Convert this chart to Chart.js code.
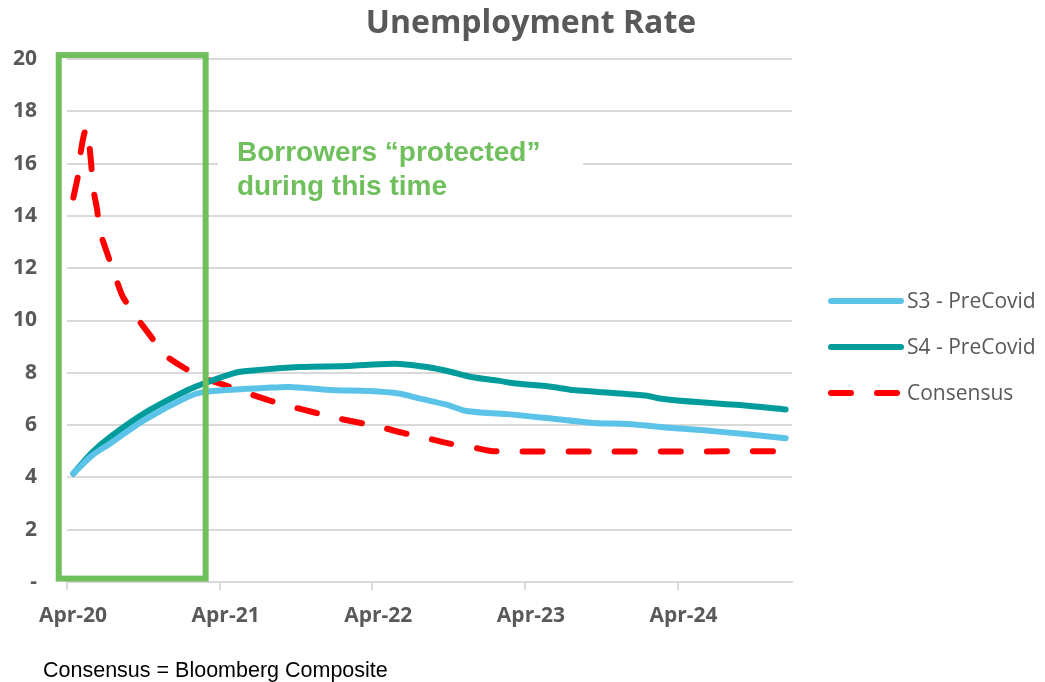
<!DOCTYPE html>
<html>
<head>
<meta charset="utf-8">
<script src="https://cdn.jsdelivr.net/npm/chart.js@4.4.1/dist/chart.umd.min.js"></script>
<style>
  html, body { margin: 0; padding: 0; background: #ffffff; }
  #wrap { width: 1045px; height: 682px; }
</style>
</head>
<body>
<div id="wrap"><canvas id="c" width="1045" height="682"></canvas></div>
<script>
// ---- Data (x = months since Apr-20, value = unemployment rate %) ----
const tickMonths = [0, 12, 24, 36, 48];
const tickLabels = ['Apr-20', 'Apr-21', 'Apr-22', 'Apr-23', 'Apr-24'];

const s3Months = [0.5, 2.0, 3.4, 6.1, 9.5, 10.8, 13.2, 15.5, 17.5, 20.7, 23.8, 26.2, 27.2, 29.9, 31.4, 34.6, 37.7, 41.4, 44.0, 47.6, 50.8, 56.5];
const s3Values = [4.15, 4.85, 5.3, 6.2, 7.08, 7.27, 7.36, 7.42, 7.46, 7.34, 7.3, 7.2, 7.08, 6.77, 6.54, 6.42, 6.27, 6.08, 6.04, 5.89, 5.77, 5.5];

const s4Months = [0.5, 2.0, 3.4, 6.1, 9.5, 10.8, 13.2, 14.4, 18.3, 22.2, 24.5, 26.2, 28.3, 29.9, 31.8, 34.0, 35.1, 38.2, 39.8, 42.9, 45.6, 46.6, 49.8, 52.9, 56.5];
const s4Values = [4.15, 4.97, 5.55, 6.46, 7.34, 7.6, 8.0, 8.08, 8.22, 8.26, 8.33, 8.34, 8.22, 8.07, 7.84, 7.69, 7.6, 7.46, 7.34, 7.23, 7.12, 7.02, 6.87, 6.77, 6.6];

const consMonths = [0.5, 0.85, 1.1, 1.42, 1.57, 1.7, 1.9, 2.04, 2.36, 2.6, 3.14, 3.85, 4.4, 5.5, 6.5, 7.7, 9.1, 10.7, 12.4, 14.2, 15.8, 17.7, 19.3, 21.2, 24.6, 26.4, 28.3, 30.0, 31.8, 33.5, 55.7];
const consValues = [14.7, 15.5, 16.5, 17.25, 16.8, 16.9, 16.0, 15.1, 14.26, 13.4, 12.6, 11.6, 10.9, 10.1, 9.45, 8.68, 8.22, 7.8, 7.53, 7.22, 6.96, 6.7, 6.5, 6.27, 5.93, 5.7, 5.5, 5.3, 5.16, 5.0, 5.0];

const seriesNames = ['S3 - PreCovid', 'S4 - PreCovid', 'Consensus'];

// Annotation ("protected" period), in data units
const protectedFrom = -0.65, protectedTo = 10.9, protectedLow = 0.13, protectedHigh = 20.15;

const GREY = '#595959';
const GREEN = '#6FBF5C';
const GRID = '#d9d9d9';

const toPts = (xs, ys) => xs.map((x, i) => ({ x: x, y: ys[i] }));

const decorPlugin = {
  id: 'decor',
  afterDatasetsDraw(chart) {
    const ctx = chart.ctx;
    const xs = chart.scales.x, ys = chart.scales.y;
    ctx.save();
    // white background behind the note
    ctx.fillStyle = '#ffffff';
    ctx.fillRect(218, 134, 365, 68);
    // note text
    ctx.fillStyle = GREEN;
    ctx.font = 'bold 28px "Liberation Sans", Arial, sans-serif';
    ctx.textAlign = 'left';
    ctx.textBaseline = 'alphabetic';
    ctx.fillText('Borrowers \u201Cprotected\u201D', 237, 161);
    ctx.fillText('during this time', 237, 195);
    // protected box
    const l = xs.getPixelForValue(protectedFrom), r = xs.getPixelForValue(protectedTo);
    const t = ys.getPixelForValue(protectedHigh), b = ys.getPixelForValue(protectedLow);
    ctx.strokeStyle = GREEN;
    ctx.lineWidth = 6;
    ctx.lineJoin = 'miter';
    ctx.strokeRect(l, t, r - l, b - t);
    ctx.restore();
  },
  afterDraw(chart) {
    const ctx = chart.ctx;
    ctx.save();
    // title
    ctx.fillStyle = GREY;
    ctx.font = 'bold 32px "Open Sans", sans-serif';
    ctx.textAlign = 'center';
    ctx.textBaseline = 'alphabetic';
    ctx.fillText('Unemployment Rate', 531, 33);
    // legend
    const legendY = [301, 347, 393];
    chart.data.datasets.forEach((ds, i) => {
      ctx.save();
      ctx.strokeStyle = ds.borderColor;
      ctx.lineWidth = ds.borderWidth;
      ctx.lineCap = 'round';
      ctx.setLineDash(ds.borderDash || []);
      ctx.beginPath();
      ctx.moveTo(831, legendY[i]);
      ctx.lineTo(901, legendY[i]);
      ctx.stroke();
      ctx.restore();
      ctx.fillStyle = GREY;
      ctx.font = '21px "Open Sans", sans-serif';
      ctx.textAlign = 'left';
      ctx.textBaseline = 'middle';
      ctx.fillText(ds.label, 907, legendY[i] + 1);
    });
    // footnote
    ctx.fillStyle = '#000000';
    ctx.font = '21.5px "Liberation Sans", Arial, sans-serif';
    ctx.textAlign = 'left';
    ctx.textBaseline = 'alphabetic';
    ctx.fillText('Consensus = Bloomberg Composite', 43, 677);
    ctx.restore();
  }
};

new Chart(document.getElementById('c'), {
  type: 'line',
  data: {
    datasets: [
      {
        label: seriesNames[0],
        data: toPts(s3Months, s3Values),
        borderColor: '#5BC3E8',
        borderWidth: 6,
        pointRadius: 0,
        tension: 0.3,
        borderCapStyle: 'round',
        borderJoinStyle: 'round',
        fill: false
      },
      {
        label: seriesNames[1],
        data: toPts(s4Months, s4Values),
        borderColor: '#009C9C',
        borderWidth: 6,
        pointRadius: 0,
        tension: 0.3,
        borderCapStyle: 'round',
        borderJoinStyle: 'round',
        fill: false
      },
      {
        label: seriesNames[2],
        data: toPts(consMonths, consValues),
        borderColor: '#FF0000',
        borderWidth: 6,
        borderDash: [20, 26],
        pointRadius: 0,
        tension: 0.2,
        borderCapStyle: 'round',
        borderJoinStyle: 'round',
        fill: false
      }
    ]
  },
  options: {
    responsive: false,
    animation: false,
    layout: { padding: { left: 0, right: 253, top: 59, bottom: 0 } },
    plugins: {
      legend: { display: false },
      title: { display: false },
      tooltip: { enabled: false }
    },
    scales: {
      x: {
        type: 'linear',
        min: 0,
        max: 57,
        afterBuildTicks(scale) { scale.ticks = tickMonths.map(v => ({ value: v })); },
        afterFit(scale) { scale.height = 100; },
        grid: { drawOnChartArea: false, drawTicks: true, tickLength: 8, color: GRID, lineWidth: 2 },
        border: { display: true, color: GRID, width: 2 },
        ticks: {
          autoSkip: false,
          maxRotation: 0,
          labelOffset: 6,
          padding: 13,
          color: GREY,
          font: { family: '"Open Sans", sans-serif', size: 21, weight: 'bold' },
          callback(value) { const i = tickMonths.indexOf(value); return i >= 0 ? tickLabels[i] : ''; }
        }
      },
      y: {
        min: 0,
        max: 20,
        afterFit(scale) { scale.width = 67; },
        grid: { drawTicks: false, color: GRID, lineWidth: 2 },
        border: { display: false },
        ticks: {
          stepSize: 2,
          padding: 30,
          color: GREY,
          font: { family: '"Open Sans", sans-serif', size: 21, weight: 'bold' },
          callback(value) { return value === 0 ? '-' : String(value); }
        }
      }
    }
  },
  plugins: [decorPlugin]
});
</script>
</body>
</html>
